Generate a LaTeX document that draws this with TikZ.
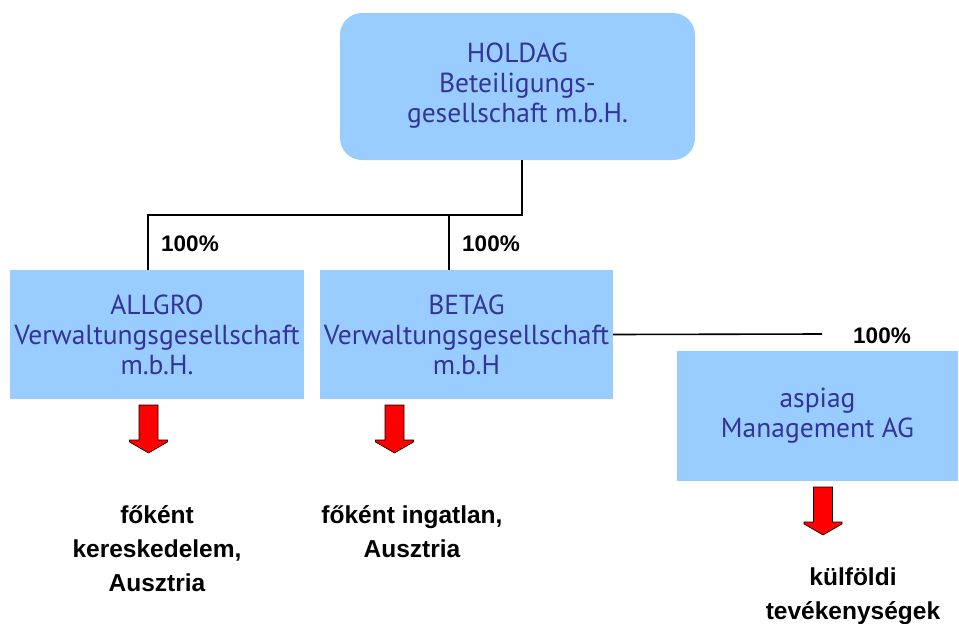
\documentclass[tikz,border=0pt]{standalone}
\usepackage{fontspec}
\setmainfont{Liberation Sans}
\newfontfamily\boxfont{PT Sans}
\definecolor{boxfill}{HTML}{99CCFF}
\definecolor{boxtext}{HTML}{333399}
\begin{document}
\begin{tikzpicture}[x=1pt,y=-1pt,
  company/.style={fill=boxfill, draw=none, inner sep=0pt, align=center,
    text=boxtext, font=\boxfont\fontsize{27.5}{30}\selectfont},
  pct/.style={font=\bfseries\fontsize{22.5}{24}\selectfont, inner sep=0pt},
  activity/.style={font=\bfseries\fontsize{24.5}{34}\selectfont, align=center, inner sep=0pt},
  conn/.style={line width=1.6pt, draw=black},
  redarrow/.pic={\draw[fill=red, draw=black, line width=0.6pt]
     (-9.5,0) -- (9.5,0) -- (9.5,35) -- (19,35) -- (19,37) -- (0,48) -- (-19,37) -- (-19,35) -- (-9.5,35) -- cycle;}
]
\useasboundingbox (0,0) rectangle (959,624);
% boxes
\node[company, rounded corners=22pt, minimum width=355pt, minimum height=147pt] (holdag) at (517.5,86.5)
  {\raisebox{-3pt}{\begin{tabular}{@{}c@{}}HOLDAG\\Beteiligungs-\\gesellschaft m.b.H.\end{tabular}}};
\node[company, minimum width=294pt, minimum height=129pt] (allgro) at (157,334.5)
  {ALLGRO\\Verwaltungsgesellschaft\\m.b.H.};
\node[company, minimum width=293pt, minimum height=129pt] (betag) at (466.5,334.5)
  {BETAG\\Verwaltungsgesellschaft\\m.b.H};
\node[company, minimum width=281pt, minimum height=130pt] (aspiag) at (817.5,416)
  {aspiag\\Management AG};
% connectors
\coordinate (hj) at (522,215);
\coordinate (aj) at (148,270);
\coordinate (bj) at (449,270);
\coordinate (cj) at (822,334);
\draw[conn] (holdag.south -| hj) -- (hj) -- (hj -| aj) -- (aj);
\draw[conn] (hj -| bj) -- (bj);
\draw[conn] (betag.east) -- (cj);
% percentages
\node[pct] (p1) at (190,244) {100\%};
\node[pct] (p2) at (491,244) {100\%};
\node[pct] (p3) at (882,336) {100\%};
% red arrows
\pic at (148.5,405) {redarrow};
\pic at (394.5,405) {redarrow};
\pic at (823,487) {redarrow};
% activities
\node[activity] (t1) at (157,549) {főként\\kereskedelem,\\Ausztria};
\node[activity] (t2) at (412,532) {főként ingatlan,\\Ausztria};
\node[activity] (t3) at (853,596) {külföldi\\tevékenységek};
\end{tikzpicture}
\end{document}
